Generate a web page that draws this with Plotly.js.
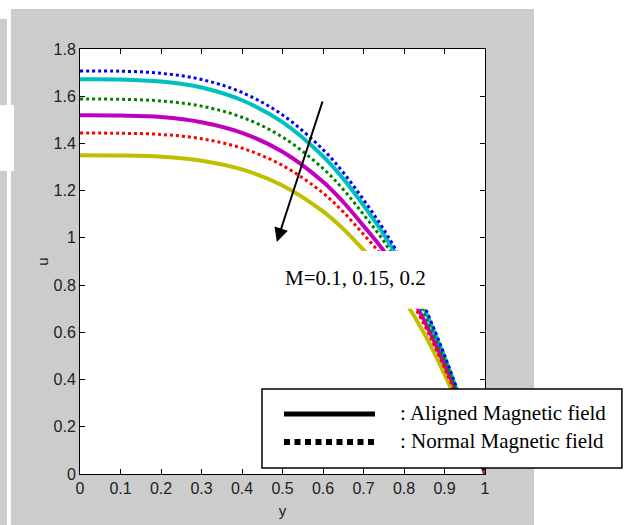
<!DOCTYPE html>
<html><head><meta charset="utf-8">
<script src="https://cdn.plot.ly/plotly-3.0.1.min.js"></script>
<style>
html,body{margin:0;padding:0;background:#fff;width:626px;height:525px;overflow:hidden;position:relative}
.bg{position:absolute;background:#cccccc}
#chart{position:absolute;left:0;top:0;width:626px;height:525px}
</style></head><body>
<div class="bg" style="left:0;top:19px;width:7px;height:506px"></div>
<div class="bg" style="left:11px;top:9px;width:523px;height:516px"></div>
<div style="position:absolute;left:0;top:105px;width:14px;height:66px;background:#fff"></div>
<div id="chart"></div>
<script>
// y positions
var yGrid = [0, 0.1, 0.2, 0.3, 0.4, 0.5, 0.6, 0.65, 0.7, 0.75, 0.8, 0.85, 0.9, 0.95, 1.0];
// Aligned magnetic field (solid), M = 0.1, 0.15, 0.2
var alignedM010 = [1.672, 1.671, 1.662, 1.637, 1.583, 1.490, 1.346, 1.251, 1.138, 1.015, 0.870, 0.700, 0.495, 0.262, 0];
var alignedM015 = [1.519, 1.518, 1.512, 1.490, 1.445, 1.365, 1.238, 1.152, 1.051, 0.945, 0.808, 0.650, 0.462, 0.245, 0];
var alignedM020 = [1.350, 1.349, 1.344, 1.327, 1.290, 1.222, 1.112, 1.038, 0.949, 0.858, 0.738, 0.595, 0.423, 0.224, 0];
// Normal magnetic field (dotted), M = 0.1, 0.15, 0.2
var normalM010 = [1.707, 1.706, 1.697, 1.671, 1.616, 1.521, 1.374, 1.277, 1.162, 1.036, 0.886, 0.712, 0.503, 0.266, 0];
var normalM015 = [1.588, 1.587, 1.580, 1.558, 1.511, 1.427, 1.294, 1.205, 1.099, 0.986, 0.843, 0.678, 0.481, 0.255, 0];
var normalM020 = [1.444, 1.443, 1.438, 1.420, 1.380, 1.307, 1.190, 1.110, 1.015, 0.915, 0.785, 0.632, 0.449, 0.238, 0];

var xTickVals = [0, 0.1, 0.2, 0.3, 0.4, 0.5, 0.6, 0.7, 0.8, 0.9, 1];
var xTickText = ['0', '0.1', '0.2', '0.3', '0.4', '0.5', '0.6', '0.7', '0.8', '0.9', '1'];
var yTickVals = [0, 0.2, 0.4, 0.6, 0.8, 1, 1.2, 1.4, 1.6, 1.8];
var yTickText = ['0', '0.2', '0.4', '0.6', '0.8', '1', '1.2', '1.4', '1.6', '1.8'];
var annotationText = 'M=0.1, 0.15, 0.2';
var legendLabels = [': Aligned Magnetic field', ': Normal Magnetic field'];

var tickFont = {family: '"Liberation Sans Narrow", "Arial Narrow", "Liberation Sans", Arial, sans-serif', size: 16, color: '#222'};
var serif = '"Liberation Serif", "Times New Roman", serif';

function solid(y, color) {
  return {x: yGrid, y: y, mode: 'lines', line: {color: color, width: 4, shape: 'spline'}, hoverinfo: 'skip'};
}
function dotted(y, color) {
  return {x: yGrid, y: y, mode: 'lines', line: {color: color, width: 3, dash: 'dot', shape: 'spline'}, hoverinfo: 'skip'};
}

var data = [
  solid(alignedM010, 'rgb(0,191,191)'),
  solid(alignedM015, 'rgb(191,0,191)'),
  solid(alignedM020, 'rgb(191,191,0)'),
  dotted(normalM010, 'rgb(0,0,255)'),
  dotted(normalM015, 'rgb(0,128,0)'),
  dotted(normalM020, 'rgb(255,0,0)')
];

var axisCommon = {
  showgrid: false, zeroline: false, showline: true, linecolor: '#000', linewidth: 1,
  mirror: 'ticks', ticks: 'inside', ticklen: 5, tickcolor: '#000', tickwidth: 1,
  tickfont: tickFont, tickmode: 'array'
};

var layout = {
  width: 626, height: 525,
  margin: {l: 80, r: 141, t: 49, b: 51},
  paper_bgcolor: 'rgba(0,0,0,0)',
  plot_bgcolor: '#ffffff',
  showlegend: false,
  xaxis: Object.assign({}, axisCommon, {
    range: [0, 1], tickvals: xTickVals, ticktext: xTickText,
    title: {text: 'y', font: {family: tickFont.family, size: 15, color: '#222'}, standoff: 9}
  }),
  yaxis: Object.assign({}, axisCommon, {
    range: [0, 1.8], tickvals: yTickVals, ticktext: yTickText,
    title: {text: 'u', font: {family: tickFont.family, size: 15, color: '#222'}, standoff: 1}
  }),
  shapes: [
    {type: 'rect', xref: 'x', yref: 'y', x0: 0.37, x1: 0.98, y0: 0.70, y1: 0.945,
     fillcolor: '#ffffff', line: {width: 0}, layer: 'above'},
    {type: 'rect', xref: 'paper', yref: 'paper', x0: 0.4494, x1: 1.338, y0: 0.0141, y1: 0.2,
     fillcolor: '#ffffff', line: {color: '#000', width: 1.5}, layer: 'above'},
    {type: 'line', xref: 'paper', yref: 'paper', x0: 0.5037, x1: 0.7284, y0: 0.1412, y1: 0.1412,
     line: {color: '#000', width: 5}, layer: 'above'},
    {type: 'line', xref: 'paper', yref: 'paper', x0: 0.5037, x1: 0.7284, y0: 0.0753, y1: 0.0753,
     line: {color: '#000', width: 6, dash: '6px,4.5px'}, layer: 'above'}
  ],
  annotations: [
    {x: 0.681, y: 0.832, xref: 'x', yref: 'y', text: annotationText, showarrow: false,
     font: {family: serif, size: 21, color: '#000'}},
    {x: 0.486, y: 0.983, ax: 0.600, ay: 1.584, xref: 'x', yref: 'y', axref: 'x', ayref: 'y',
     text: '', showarrow: true, arrowhead: 2, arrowsize: 1.4, arrowwidth: 2, arrowcolor: '#000', standoff: 0},
    {x: 0.785, y: 0.1435, xref: 'paper', yref: 'paper', xanchor: 'left', yanchor: 'middle',
     text: legendLabels[0], showarrow: false, font: {family: serif, size: 21, color: '#000'}},
    {x: 0.785, y: 0.0776, xref: 'paper', yref: 'paper', xanchor: 'left', yanchor: 'middle',
     text: legendLabels[1], showarrow: false, font: {family: serif, size: 21, color: '#000'}}
  ]
};

Plotly.newPlot('chart', data, layout, {displayModeBar: false, staticPlot: true});
</script>
</body></html>
